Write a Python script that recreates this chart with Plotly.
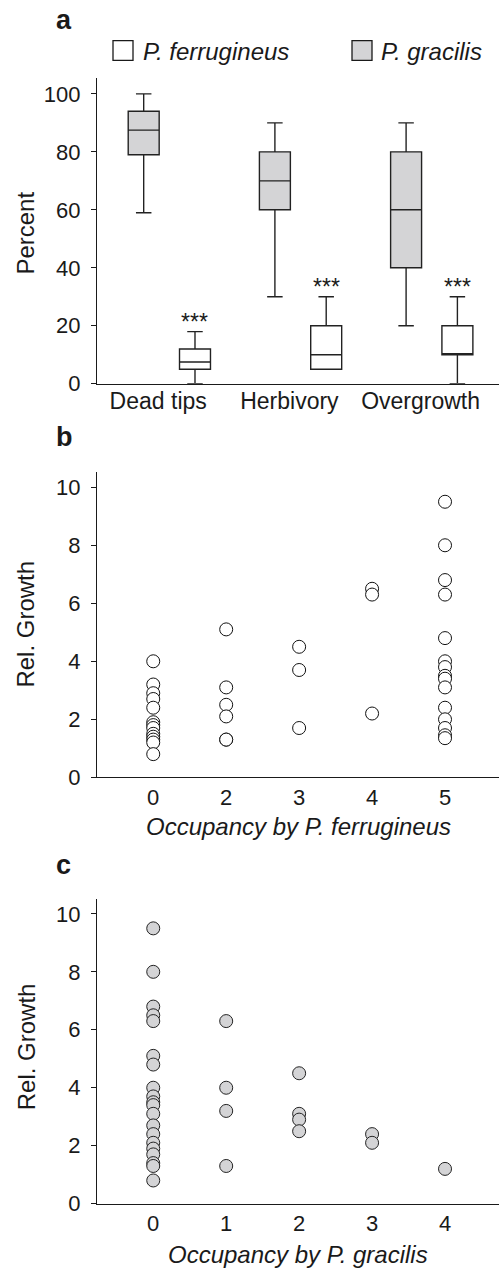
import plotly.graph_objects as go

W, H = 499, 1281
FONT = "Arial, 'Liberation Sans', sans-serif"
INK = "#1a1a1a"
GRAY = "#d4d4d6"

# ---------------- Panel a data ----------------
categories = ["Dead tips", "Herbivory", "Overgrowth"]
gracilis_low = [59, 30, 20]
gracilis_q1 = [79, 60, 40]
gracilis_med = [87.5, 70, 60]
gracilis_q3 = [94, 80, 80]
gracilis_high = [100, 90, 90]

ferrugineus_low = [0, 5, 0]
ferrugineus_q1 = [5, 5, 10]
ferrugineus_med = [7.5, 10, 10]
ferrugineus_q3 = [12, 20, 20]
ferrugineus_high = [18, 30, 30]
significance = ["***", "***", "***"]

y_ticks_a = [0, 20, 40, 60, 80, 100]

# ---------------- Panel b data ----------------
occ_ferr_labels = ["0", "2", "3", "4", "5"]
growth_ferr_0 = [4.0, 3.2, 2.9, 2.7, 2.4, 1.9, 1.8, 1.7, 1.5, 1.4, 1.3, 1.2, 0.8]
growth_ferr_2 = [5.1, 3.1, 2.5, 2.1, 1.3, 1.3]
growth_ferr_3 = [4.5, 3.7, 1.7]
growth_ferr_4 = [6.5, 6.3, 2.2]
growth_ferr_5 = [9.5, 8.0, 6.8, 6.3, 4.8, 4.0, 3.8, 3.5, 3.4, 3.1, 2.4, 2.0, 1.7, 1.45, 1.35]

# ---------------- Panel c data ----------------
occ_grac_labels = ["0", "1", "2", "3", "4"]
growth_grac_0 = [9.5, 8.0, 6.8, 6.5, 6.3, 5.1, 4.8, 4.0, 3.7, 3.5, 3.4, 3.1,
                 2.7, 2.4, 2.1, 1.9, 1.7, 1.4, 1.3, 0.8]
growth_grac_1 = [6.3, 4.0, 3.2, 1.3]
growth_grac_2 = [4.5, 3.1, 2.9, 2.5]
growth_grac_3 = [2.4, 2.1]
growth_grac_4 = [1.2]

y_ticks_bc = [0, 2, 4, 6, 8, 10]

# ---------------- helpers ----------------
def px_x(p):
    return p / W


def px_y(p):
    return 1 - p / H


GROUP_OFFSET = 0.1955
BOX_WIDTH = 0.236
LABEL_SHIFT = -0.085

group_pos = list(range(1, len(categories) + 1))
gracilis_x = [g - GROUP_OFFSET for g in group_pos]
ferrugineus_x = [g + GROUP_OFFSET for g in group_pos]

fig = go.Figure()

box_line = dict(color="#222222", width=1.4)
fig.add_trace(go.Box(
    x=gracilis_x, q1=gracilis_q1, median=gracilis_med, q3=gracilis_q3,
    lowerfence=gracilis_low, upperfence=gracilis_high,
    width=BOX_WIDTH, whiskerwidth=0.5, fillcolor=GRAY, line=box_line,
    boxpoints=False, showlegend=False, xaxis="x", yaxis="y", name="P. gracilis"))
fig.add_trace(go.Box(
    x=ferrugineus_x, q1=ferrugineus_q1, median=ferrugineus_med, q3=ferrugineus_q3,
    lowerfence=ferrugineus_low, upperfence=ferrugineus_high,
    width=BOX_WIDTH, whiskerwidth=0.5, fillcolor="white", line=box_line,
    boxpoints=False, showlegend=False, xaxis="x", yaxis="y", name="P. ferrugineus"))

# Panel b scatter
b_x, b_y = [], []
for lab, vals in zip(occ_ferr_labels, [growth_ferr_0, growth_ferr_2, growth_ferr_3,
                                        growth_ferr_4, growth_ferr_5]):
    b_x += [lab] * len(vals)
    b_y += vals
fig.add_trace(go.Scatter(
    x=b_x, y=b_y, mode="markers", xaxis="x2", yaxis="y2", showlegend=False,
    marker=dict(size=13, color="white", line=dict(color="#111", width=1))))

# Panel c scatter
c_x, c_y = [], []
for lab, vals in zip(occ_grac_labels, [growth_grac_0, growth_grac_1, growth_grac_2,
                                        growth_grac_3, growth_grac_4]):
    c_x += [lab] * len(vals)
    c_y += vals
fig.add_trace(go.Scatter(
    x=c_x, y=c_y, mode="markers", xaxis="x3", yaxis="y3", showlegend=False,
    marker=dict(size=13, color=GRAY, line=dict(color="#222", width=1))))

axis_common = dict(showline=True, linecolor=INK, linewidth=1.3, showgrid=False,
                   zeroline=False, tickfont=dict(family=FONT, size=22, color=INK))
yaxis_common = dict(axis_common, ticks="outside", ticklen=5, tickwidth=1.3,
                    tickcolor=INK, ticklabelstandoff=6)
x_domain = [px_x(97), 1.0]

fig.update_layout(
    width=W, height=H, margin=dict(l=0, r=0, t=0, b=0),
    paper_bgcolor="white", plot_bgcolor="white", boxmode="overlay",
    font=dict(family=FONT, color=INK),
    xaxis=dict(axis_common, domain=x_domain, anchor="y", range=[0.4486, 3.5126],
               ticks="", tickvals=[g + LABEL_SHIFT for g in group_pos],
               ticktext=categories, tickfont=dict(family=FONT, size=23, color=INK),
               ticklabelstandoff=-4),
    yaxis=dict(yaxis_common, domain=[px_y(387.7), px_y(79)], anchor="x",
               range=[0, 105.4], tickvals=y_ticks_a),
    xaxis2=dict(axis_common, domain=x_domain, anchor="y2", type="category",
                categoryorder="array", categoryarray=occ_ferr_labels,
                range=[-0.771, 4.74], ticks=""),
    yaxis2=dict(yaxis_common, domain=[px_y(785.3), px_y(477.3)], anchor="x2",
                range=[0, 10.51], tickvals=y_ticks_bc),
    xaxis3=dict(axis_common, domain=x_domain, anchor="y3", type="category",
                categoryorder="array", categoryarray=occ_grac_labels,
                range=[-0.771, 4.74], ticks=""),
    yaxis3=dict(yaxis_common, domain=[px_y(1216), px_y(908.3)], anchor="x3",
                range=[0, 10.51], tickvals=y_ticks_bc),
)

annotations = []
# significance stars
for xv, top, s in zip(ferrugineus_x, ferrugineus_high, significance):
    annotations.append(dict(x=xv, y=top, xref="x", yref="y", text=s, showarrow=False,
                            yanchor="bottom", yshift=-5,
                            font=dict(family=FONT, size=23, color=INK)))

def paper_text(text, x, y, size, xanchor="center", yanchor="middle", angle=0,
               bold=False, italic=False):
    t = text
    if italic:
        t = "<i>" + t + "</i>"
    if bold:
        t = "<b>" + t + "</b>"
    annotations.append(dict(x=px_x(x), y=px_y(y), xref="paper", yref="paper",
                            text=t, showarrow=False, xanchor=xanchor,
                            yanchor=yanchor, textangle=angle,
                            font=dict(family=FONT, size=size, color=INK)))

# panel letters
paper_text("a", 54, 20, 27, xanchor="left", bold=True)
paper_text("b", 54, 441, 27, xanchor="left", bold=True)
paper_text("c", 54, 874, 27, xanchor="left", bold=True)
# axis titles
paper_text("Percent", 26, 236, 24, angle=-90)
paper_text("Rel. Growth", 26, 631, 24, angle=-90)
paper_text("Rel. Growth", 26, 1058, 24, angle=-90)
paper_text("Occupancy by P. ferrugineus", 298, 835, 24, italic=True)
paper_text("Occupancy by P. gracilis", 298, 1267, 24, italic=True)
# legend text
paper_text("P. ferrugineus", 141, 52, 24, xanchor="left", italic=True)
paper_text("P. gracilis", 379, 52, 24, xanchor="left", italic=True)

fig.update_layout(annotations=annotations)

# legend key squares
shapes = []
for x0, fill in [(113, "white"), (352, GRAY)]:
    shapes.append(dict(type="rect", xref="paper", yref="paper",
                       x0=px_x(x0), x1=px_x(x0 + 20), y0=px_y(61), y1=px_y(41),
                       fillcolor=fill, line=dict(color=INK, width=1.3)))
fig.update_layout(shapes=shapes)

fig.write_html(
    "out.html",
    config={"displayModeBar": False, "responsive": False},
    post_script="document.body.style.margin='0';document.body.style.overflow='hidden';",
)
